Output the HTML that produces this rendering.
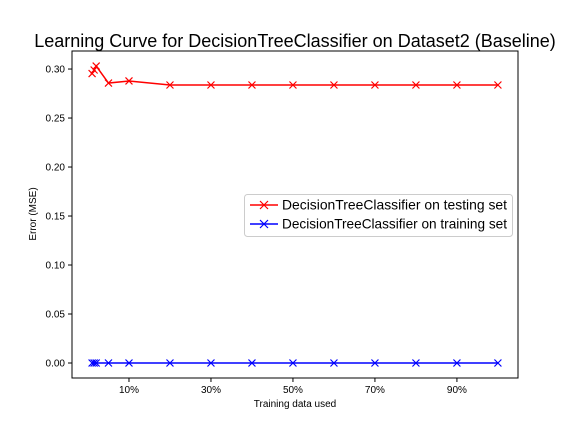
<!DOCTYPE html>
<html><head><meta charset="utf-8"><style>
body{margin:0;background:#fff;}
svg text{font-family:"Liberation Sans",sans-serif;}
</style></head><body>
<svg id="chart" width="576" height="432" xmlns="http://www.w3.org/2000/svg">
<rect width="576" height="432" fill="#fff"/>
<text x="295" y="47" font-size="18" text-anchor="middle">Learning Curve for DecisionTreeClassifier on Dataset2 (Baseline)</text>
<g id="plot"></g>
<rect x="72" y="51" width="446" height="327" fill="none" stroke="#000" stroke-width="1"/>
<text x="295" y="407" font-size="10" text-anchor="middle">Training data used</text>
<text transform="translate(36,214) rotate(-90)" font-size="10" text-anchor="middle">Error (MSE)</text>
<g>
<rect x="244.5" y="194.5" width="268" height="42" rx="3" fill="#fff" fill-opacity="0.8" stroke="#ccc"/>
<g>
<line x1="250" y1="205" x2="278" y2="205" stroke="red" stroke-width="1.5"/>
<path d="M260,201 l8,8 M268,201 l-8,8" stroke="red" stroke-width="1.2"/>
<text x="282" y="209.5" font-size="13.6" textLength="225" lengthAdjust="spacingAndGlyphs">DecisionTreeClassifier on testing set</text>
</g>
<g>
<line x1="250" y1="224" x2="278" y2="224" stroke="blue" stroke-width="1.5"/>
<path d="M260,220 l8,8 M268,220 l-8,8" stroke="blue" stroke-width="1.2"/>
<text x="282" y="228.5" font-size="13.6" textLength="225" lengthAdjust="spacingAndGlyphs">DecisionTreeClassifier on training set</text>
</g>
</g>
</svg>
<script>
const xPercents=[1,1.5,2,5,10,20,30,40,50,60,70,80,90,100];
const testErr=[0.2954,0.299,0.303,0.2857,0.2878,0.2837,0.2837,0.2837,0.2837,0.2837,0.2837,0.2837,0.2837,0.2837];
const trainErr=[0,0,0,0,0,0,0,0,0,0,0,0,0,0];
const xTicks=[10,30,50,70,90];
const xTickLabels=["10%","30%","50%","70%","90%"];
const yTicks=[0,0.05,0.10,0.15,0.20,0.25,0.30];
const yTickLabels=["0.00","0.05","0.10","0.15","0.20","0.25","0.30"];
const NS="http://www.w3.org/2000/svg";
const X0=72,X1=518,Y0=378,Y1=51,xmin=-3.9,xmax=104.9,ymin=-0.0153,ymax=0.3184;
function sx(v){return X0+(v-xmin)/(xmax-xmin)*(X1-X0);}
function sy(v){return Y0-(v-ymin)/(ymax-ymin)*(Y0-Y1);}
const g=document.getElementById('plot');
function mk(t,a){const e=document.createElementNS(NS,t);for(const k in a)e.setAttribute(k,a[k]);g.appendChild(e);return e;}
xTicks.forEach((v,i)=>{
const l=mk('line',{x1:sx(v),x2:sx(v),y1:Y0,y2:Y0+4,stroke:'#000'});


const t=mk('text',{x:sx(v),y:Y0+15,'font-size':10,'text-anchor':'middle'});t.textContent=xTickLabels[i];


});
yTicks.forEach((v,i)=>{
const l=mk('line',{x1:X0-4,x2:X0,y1:sy(v),y2:sy(v),stroke:'#000'});


const t=mk('text',{x:X0-7,y:sy(v)+3.5,'font-size':10,'text-anchor':'end'});t.textContent=yTickLabels[i];


});
function series(vals,color,name){
const p=mk('polyline',{points:xPercents.map((x,i)=>sx(x)+','+sy(vals[i])).join(' '),fill:'none',stroke:color,'stroke-width':1.5});


xPercents.forEach((x,i)=>{
const cx=sx(x),cy=sy(vals[i]);
const m=mk('path',{d:`M${cx-3.5},${cy-3.5} l7,7 M${cx+3.5},${cy-3.5} l-7,7`,stroke:color,'stroke-width':1.2});


});
}
series(testErr,'red','testing');
series(trainErr,'blue','training');
</script>
</body></html>
